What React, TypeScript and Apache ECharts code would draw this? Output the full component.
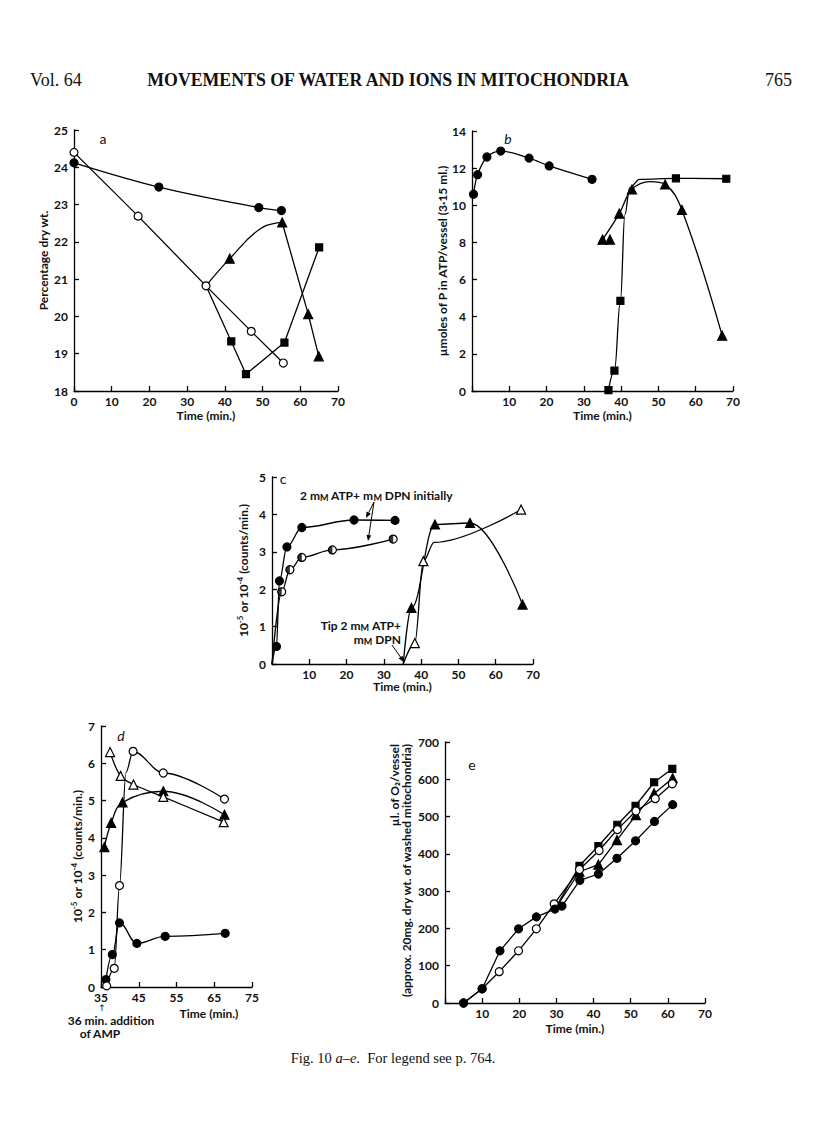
import React, { useEffect, useRef } from 'react';
import * as echarts from 'echarts';

type Pt = [number, number];

// ---------- Panel a: Percentage dry wt. vs Time (min.) ----------
const aFilledCircle: Pt[] = [[0, 24.12], [22.5, 23.47], [49, 22.92], [55, 22.84]];
const aOpenCircle: Pt[] = [[0, 24.4], [17, 22.69], [35, 20.82], [47, 19.6], [55.5, 18.75]];
const aBranchStart: Pt = [35, 20.82];
const aTriangleRise: Pt[] = [[41.3, 21.55], [55.2, 22.52]];
const aTriangleRiseCurve: Pt[] = [[49.5, 22.36]];
const aTriangleFall: Pt[] = [[62.1, 20.06], [64.9, 18.93]];
const aSquare: Pt[] = [[41.7, 19.33], [45.6, 18.45], [55.8, 19.3], [65, 21.85]];

// ---------- Panel b: µmoles of P in ATP/vessel ----------
const bCircle: Pt[] = [[0.4, 10.6], [1.5, 11.65], [4, 12.6], [7.7, 12.92], [15.3, 12.54], [20.7, 12.12], [32.2, 11.4]];
const bSquare: Pt[] = [[36.6, 0.05], [38.2, 1.1], [39.8, 4.85], [54.7, 11.45], [68.2, 11.43]];
const bSquareCurve: Pt[] = [[41, 9.5], [42.3, 10.95], [45, 11.4]];
const bTriangle: Pt[] = [[35, 8.15], [39.5, 9.55], [42.9, 10.85], [51.8, 11.12], [56.3, 9.75], [67.1, 2.98]];
const bTriangleCurve: Pt[] = [[47.8, 11.27]];
const bTriangleOff: Pt[] = [[37, 8.15]];

// ---------- Panel c: 10^-5 or 10^-4 (counts/min.) ----------
const cOrigin: Pt = [0, 0];
const cFilledCircle: Pt[] = [[1.2, 0.47], [2, 2.22], [4, 3.13], [8, 3.65], [22, 3.85], [33, 3.84]];
const cHalfCircle: Pt[] = [[2.6, 1.93], [4.8, 2.52], [8, 2.85], [16.2, 3.05], [32.5, 3.34]];
const cTipPoint: Pt = [35.2, 0];
const cFilledTriangle: Pt[] = [[37.4, 1.5], [43.7, 3.73], [53.1, 3.77], [67.2, 1.59]];
const cOpenTriangle: Pt[] = [[38.3, 0.56], [40.6, 2.75], [66.8, 4.13]];
const cOpenTriangleCurve: Pt[] = [[43.5, 3.25]];

// ---------- Panel d: 10^-5 or 10^-4 (counts/min.), time from 35 ----------
const dOpenCircle: Pt[] = [[36.5, 0.03], [38.5, 0.5], [39.9, 2.72], [43.5, 6.32], [51.5, 5.74], [67.7, 5.04]];
const dOpenCircleCurve: Pt[] = [[41.6, 5.75]];
const dOpenTriangle: Pt[] = [[37.4, 6.3], [40.2, 5.66], [43.6, 5.43], [51.5, 5.1], [67.5, 4.42]];
const dFilledTriangle: Pt[] = [[35.9, 3.75], [37.7, 4.4], [40.7, 4.95], [51.5, 5.25], [67.7, 4.62]];
const dFilledCircle: Pt[] = [[36.3, 0.2], [38, 0.87], [39.9, 1.72], [44.5, 1.17], [52, 1.36], [67.9, 1.44]];
const dAxisStart = 35;

// ---------- Panel e: µl. of O2/vessel ----------
const eFilledCircle: Pt[] = [[5, 0], [10, 38], [14.8, 140], [19.8, 199], [24.6, 231], [29.6, 252], [31.5, 260], [36.3, 329], [41.3, 346], [46.3, 388], [51.3, 435], [56.4, 487], [61.3, 532]];
const eOpenCircle: Pt[] = [[5, 0], [10, 38], [14.6, 84], [19.8, 140], [24.6, 199], [29.4, 266], [36.2, 358], [41.5, 409], [46.4, 465], [51.4, 515], [56.6, 548], [61.2, 588]];
const eBranchStart: Pt = [29.6, 252];
const eSquare: Pt[] = [[36.2, 368], [41.3, 421], [46.4, 478], [51.3, 529], [56.3, 592], [61.2, 628]];
const eTriangle: Pt[] = [[36.2, 352], [41.3, 371], [46.3, 437], [51.4, 504], [56.3, 562], [61.3, 603]];

const COUNTS_NAME = '{n|10}{s|-5}{n| or 10}{s|-4}{n| (counts/min.)}';

// ---------- axes ----------
const axisSpec = [
  { x: [0, 70, 10], y: [18, 25, 1], hideX0: false, yName: 'Percentage dry wt.', yGap: 25, xGap: 18 },
  { x: [0, 70, 10], y: [0, 14, 2], hideX0: true, yName: 'µmoles of P in ATP/vessel (3·15 ml.)', yGap: 22, xGap: 18 },
  { x: [0, 70, 10], y: [0, 5, 1], hideX0: true, yName: COUNTS_NAME, yGap: 21, xGap: 12 },
  { x: [0, 40, 10], y: [0, 7, 1], hideX0: false, yName: COUNTS_NAME, yGap: 16, xGap: 0 },
  { x: [0, 70, 10], y: [0, 700, 100], hideX0: true, yName: '', yGap: 32, xGap: 19 },
];

const grids = [
  { left: 74, top: 130, width: 264, height: 261 },
  { left: 472, top: 131, width: 261, height: 260 },
  { left: 272, top: 477, width: 261, height: 187 },
  { left: 101, top: 726, width: 151, height: 261 },
  { left: 445, top: 742, width: 260, height: 261 },
];

const FONT = 'Lato, "DejaVu Sans", sans-serif';
const SERIF = '"Liberation Serif", "DejaVu Serif", serif';
const INK = '#111';
const FS = 12;

const merge = (marked: Pt[], unmarked: Pt[] = []) =>
  [
    ...marked.map((p) => ({ value: p as number[] })),
    ...unmarked.map((p) => ({ value: p as number[], symbol: 'none' })),
  ].sort((a, b) => a.value[0] - b.value[0]);

const shiftD = (pts: Pt[]): Pt[] => pts.map(([x, y]) => [x - dAxisStart, y] as Pt);

const SIZES: Record<string, number> = { circle: 8, triangle: 9, rect: 7 };

function ser(idx: number, data: any[], symbol: string, filled: boolean, extra: any = {}) {
  return {
    type: 'line',
    xAxisIndex: idx,
    yAxisIndex: idx,
    data,
    symbol,
    symbolSize: SIZES[symbol] || 8,
    showAllSymbol: true,
    clip: false,
    silent: true,
    lineStyle: { color: '#000', width: 1.3 },
    itemStyle: { color: filled ? '#000' : '#fff', borderColor: '#000', borderWidth: 1.2 },
    emphasis: { disabled: true },
    ...extra,
  };
}

function arrow(x1: number, y1: number, x2: number, y2: number) {
  const dx = x2 - x1, dy = y2 - y1;
  const L = Math.hypot(dx, dy);
  const ux = dx / L, uy = dy / L;
  const hl = 6, hw = 2.4;
  const bx = x2 - ux * hl, by = y2 - uy * hl;
  return [
    { type: 'line', shape: { x1, y1, x2: bx, y2: by }, style: { stroke: '#000', lineWidth: 1 } },
    { type: 'polygon', shape: { points: [[x2, y2], [bx - uy * hw, by + ux * hw], [bx + uy * hw, by - ux * hw]] }, style: { fill: '#000' } },
  ];
}

function txt(text: string, x: number, y: number, o: any = {}) {
  return {
    type: 'text',
    x,
    y,
    style: { text, fontFamily: FONT, fontSize: FS, fontWeight: 'bold', fill: INK, align: 'center', verticalAlign: 'middle', ...o },
  };
}

const nameRich = {
  n: { fontFamily: FONT, fontSize: FS, fontWeight: 'bold', color: INK, lineHeight: 15 },
  s: { fontFamily: FONT, fontSize: 8, fontWeight: 'bold', color: INK, lineHeight: 9, verticalAlign: 'top' },
};

function buildOption() {
  const xAxis = axisSpec.map((s, i) => ({
    type: 'value',
    gridIndex: i,
    min: s.x[0],
    max: s.x[1],
    interval: s.x[2],
    axisLine: { show: true, onZero: false, lineStyle: { color: '#000', width: 1.3 } },
    axisTick: { show: true, inside: true, length: 5, lineStyle: { color: '#000', width: 1.3 } },
    splitLine: { show: false },
    axisLabel: {
      color: INK,
      fontFamily: FONT,
      fontWeight: 'bold',
      fontSize: FS,
      margin: 4,
      formatter: (v: number) => (s.hideX0 && v === 0 ? '' : String(i === 3 ? v + dAxisStart : v)),
    },
    name: i === 3 ? '' : 'Time (min.)',
    nameLocation: 'middle',
    nameGap: s.xGap,
    nameTextStyle: { color: INK, fontFamily: FONT, fontWeight: 'bold', fontSize: FS },
  }));
  const yAxis = axisSpec.map((s, i) => ({
    type: 'value',
    gridIndex: i,
    min: s.y[0],
    max: s.y[1],
    interval: s.y[2],
    axisLine: { show: true, onZero: false, lineStyle: { color: '#000', width: 1.3 } },
    axisTick: { show: true, inside: true, length: 5, lineStyle: { color: '#000', width: 1.3 } },
    splitLine: { show: false },
    axisLabel: { color: INK, fontFamily: FONT, fontWeight: 'bold', fontSize: FS, margin: 6 },
    name: s.yName,
    nameLocation: 'middle',
    nameGap: s.yGap,
    nameTextStyle: { color: INK, fontFamily: FONT, fontWeight: 'bold', fontSize: FS, rich: nameRich },
  }));

  const series: any[] = [
    // a
    ser(0, merge(aOpenCircle), 'circle', false),
    ser(0, merge(aFilledCircle), 'circle', true, { smooth: 0.35 }),
    ser(0, merge(aTriangleRise, [aBranchStart, ...aTriangleRiseCurve]), 'triangle', true, { smooth: 0.45 }),
    ser(0, merge(aTriangleFall, [aTriangleRise[aTriangleRise.length - 1]]), 'triangle', true),
    ser(0, merge(aSquare, [aBranchStart]), 'rect', true),
    // b
    ser(1, merge(bCircle), 'circle', true, { smooth: 0.35 }),
    ser(1, merge(bSquare, bSquareCurve), 'rect', true, { smooth: 0.4, smoothMonotone: 'x' }),
    ser(1, merge(bTriangle, bTriangleCurve), 'triangle', true, { smooth: 0.4 }),
    ser(1, merge(bTriangleOff), 'triangle', true, { lineStyle: { width: 0 } }),
    // c
    ser(2, merge(cFilledCircle, [cOrigin]), 'circle', true, { smooth: 0.35, smoothMonotone: 'x' }),
    ser(2, merge(cHalfCircle, [cOrigin]), 'circle', false, { smooth: 0.35, smoothMonotone: 'x' }),
    {
      type: 'scatter',
      xAxisIndex: 2,
      yAxisIndex: 2,
      data: cHalfCircle,
      symbol: 'path://M10,0 A10,10 0 0 0 10,20 Z',
      symbolSize: [4.2, 8.4],
      symbolOffset: [-2.1, 0],
      itemStyle: { color: '#000' },
      silent: true,
      z: 5,
    },
    ser(2, merge(cFilledTriangle, [cTipPoint]), 'triangle', true, { smooth: 0.4, smoothMonotone: 'x' }),
    ser(2, merge(cOpenTriangle, [cTipPoint, ...cOpenTriangleCurve]), 'triangle', false, { smooth: 0.35, smoothMonotone: 'x' }),
    // d
    ser(3, merge(shiftD(dFilledCircle)), 'circle', true, { smooth: 0.4, smoothMonotone: 'x' }),
    ser(3, merge(shiftD(dFilledTriangle)), 'triangle', true, { smooth: 0.4 }),
    ser(3, merge(shiftD(dOpenTriangle)), 'triangle', false, { smooth: 0.35 }),
    ser(3, merge(shiftD(dOpenCircle), shiftD(dOpenCircleCurve)), 'circle', false, { smooth: 0.35, smoothMonotone: 'x' }),
    // e
    ser(4, merge(eSquare, [eBranchStart]), 'rect', true),
    ser(4, merge(eTriangle, [eBranchStart]), 'triangle', true),
    ser(4, merge(eOpenCircle), 'circle', false),
    ser(4, merge(eFilledCircle), 'circle', true),
  ];

  const rich = {
    n: { fontFamily: FONT, fontSize: FS, fontWeight: 'bold', fill: INK, lineHeight: 14 },
    sc: { fontFamily: FONT, fontSize: 9, fontWeight: 'bold', fill: INK, lineHeight: 12, verticalAlign: 'bottom' },
  };

  const graphic: any[] = [
    // header
    { type: 'text', x: 30, y: 80, style: { text: 'Vol. 64', fontFamily: SERIF, fontSize: 18, fill: INK, align: 'left', verticalAlign: 'middle' } },
    { type: 'text', x: 388, y: 80, style: { text: 'MOVEMENTS OF WATER AND IONS IN MITOCHONDRIA', fontFamily: SERIF, fontSize: 17.8, fontWeight: 'bold', fill: INK, align: 'center', verticalAlign: 'middle' } },
    { type: 'text', x: 792, y: 80, style: { text: '765', fontFamily: SERIF, fontSize: 18, fill: INK, align: 'right', verticalAlign: 'middle' } },
    // panel letters
    txt('a', 103, 138, { fontSize: 14, fontWeight: 'normal' }),
    txt('b', 508, 138, { fontSize: 14, fontWeight: 'normal', fontStyle: 'italic' }),
    txt('c', 283, 478, { fontSize: 14, fontWeight: 'normal' }),
    txt('d', 121, 735, { fontSize: 14, fontWeight: 'normal', fontStyle: 'italic' }),
    txt('e', 472, 764, { fontSize: 14, fontWeight: 'normal' }),
    // panel e y-axis title (two lines, aligned to the top of the axis)
    { type: 'text', x: 394, y: 744, rotation: Math.PI / 2, style: { text: 'µl. of O₂/vessel', fontFamily: FONT, fontSize: FS, fontWeight: 'bold', fill: INK, align: 'right', verticalAlign: 'middle' } },
    { type: 'text', x: 406, y: 744, rotation: Math.PI / 2, style: { text: '(approx. 20mg. dry wt. of washed mitochondria)', fontFamily: FONT, fontSize: FS, fontWeight: 'bold', fill: INK, align: 'right', verticalAlign: 'middle' } },
    // panel c annotations
    {
      type: 'text', x: 300, y: 495,
      style: { text: '{n|2 m}{sc|M}{n| ATP+ m}{sc|M}{n| DPN initially}', rich, align: 'left', verticalAlign: 'middle' },
    },
    ...arrow(374, 502, 366, 518),
    ...arrow(374, 502, 368, 541),
    {
      type: 'text', x: 401, y: 625,
      style: { text: '{n|Tip 2 m}{sc|M}{n| ATP+}', rich, align: 'right', verticalAlign: 'middle' },
    },
    {
      type: 'text', x: 401, y: 639,
      style: { text: '{n|m}{sc|M}{n| DPN}', rich, align: 'right', verticalAlign: 'middle' },
    },
    ...arrow(392, 645, 404, 662),
    // panel d annotations
    txt('↑', 102, 1008, { fontWeight: 'normal', fontFamily: '"DejaVu Sans", sans-serif', fontSize: 9 }),
    txt('36 min. addition', 111, 1020),
    txt('of AMP', 100, 1033),
    txt('Time (min.)', 209, 1013),
    // caption
    {
      type: 'text', x: 393, y: 1058,
      style: {
        text: '{r|Fig. 10 }{i|a–e}{r|.  For legend see p. 764.}',
        rich: {
          r: { fontFamily: SERIF, fontSize: 14.5, fill: INK },
          i: { fontFamily: SERIF, fontSize: 14.5, fontStyle: 'italic', fill: INK },
        },
        align: 'center', verticalAlign: 'middle',
      },
    },
  ];

  return {
    animation: false,
    backgroundColor: '#fff',
    grid: grids.map((g) => ({ ...g, containLabel: false, outerBoundsMode: 'none' })),
    xAxis,
    yAxis,
    series,
    graphic,
  };
}

export default function App() {
  const ref = useRef<HTMLDivElement>(null);
  useEffect(() => {
    document.body.style.margin = '0';
    const chart = echarts.init(ref.current as HTMLDivElement, null, { renderer: 'svg' });
    chart.setOption(buildOption() as any);
    return () => chart.dispose();
  }, []);
  return (
    <div
      ref={ref}
      style={{ position: 'absolute', left: 0, top: 0, width: 816, height: 1138, background: '#fff' }}
    />
  );
}
